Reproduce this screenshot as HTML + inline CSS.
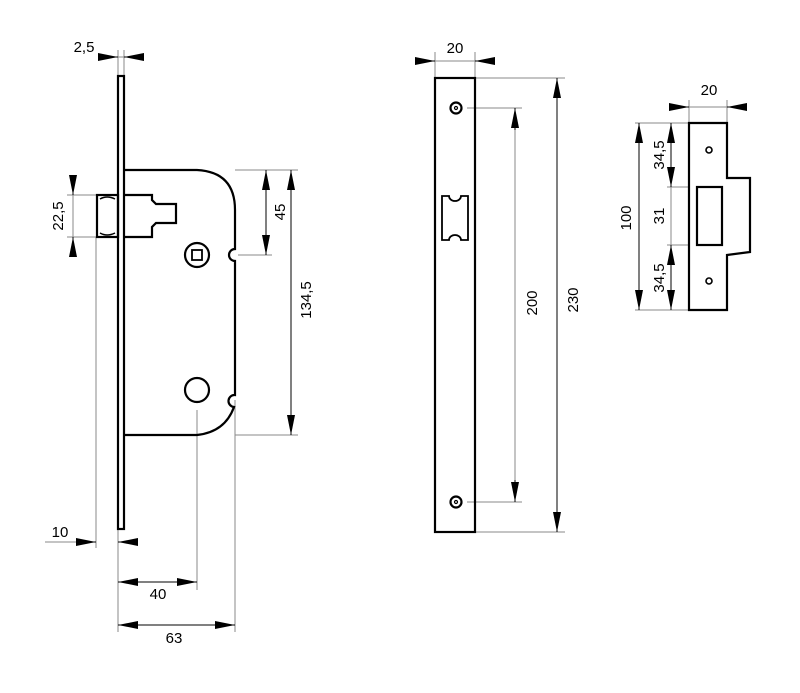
<!DOCTYPE html>
<html><head><meta charset="utf-8"><style>html,body{margin:0;padding:0;background:#fff}svg{display:block}</style></head><body>
<svg width="800" height="693" viewBox="0 0 800 693" xmlns="http://www.w3.org/2000/svg" font-family="Liberation Sans, sans-serif" font-size="15" fill="none">
<defs>
<marker id="a" viewBox="0 0 20 8" refX="20" refY="4" markerWidth="20" markerHeight="8" markerUnits="userSpaceOnUse" orient="auto-start-reverse"><path d="M0 0L20 4L0 8z" fill="#000"/></marker>
</defs>
<g stroke="#888" stroke-width="1">
<line x1="118" y1="50" x2="118" y2="76"/><line x1="124" y1="50" x2="124" y2="76"/>
<line x1="67" y1="195" x2="97" y2="195"/><line x1="67" y1="237" x2="97" y2="237"/>
<line x1="235" y1="170" x2="298" y2="170"/><line x1="238" y1="255" x2="272" y2="255"/>
<line x1="235" y1="435" x2="298" y2="435"/>
<line x1="96" y1="237" x2="96" y2="548"/><line x1="45" y1="542" x2="96" y2="542"/>
<line x1="118" y1="529" x2="118" y2="632"/><line x1="197" y1="410" x2="197" y2="590"/><line x1="235" y1="400" x2="235" y2="632"/>
<line x1="435" y1="52" x2="435" y2="78"/><line x1="475" y1="52" x2="475" y2="78"/>
<line x1="475" y1="78" x2="565" y2="78"/><line x1="467" y1="108" x2="522" y2="108"/>
<line x1="467" y1="502" x2="522" y2="502"/><line x1="475" y1="532" x2="565" y2="532"/>
<line x1="689" y1="100" x2="689" y2="123"/><line x1="727" y1="100" x2="727" y2="123"/>
<line x1="635" y1="123" x2="689" y2="123"/><line x1="635" y1="310" x2="689" y2="310"/>
<line x1="667" y1="187" x2="689" y2="187"/><line x1="667" y1="245" x2="689" y2="245"/>
</g>
<g stroke="#000" stroke-width="1">
<line x1="98" y1="57" x2="118" y2="57" marker-end="url(#a)"/><line x1="144" y1="57" x2="124" y2="57" marker-end="url(#a)"/>
<line x1="118" y1="57" x2="124" y2="57" stroke="#888"/>
<line x1="73" y1="175" x2="73" y2="195" marker-end="url(#a)"/><line x1="73" y1="257" x2="73" y2="237" marker-end="url(#a)"/>
<line x1="73" y1="195" x2="73" y2="237" stroke="#888"/>
<line x1="266" y1="170" x2="266" y2="255" marker-start="url(#a)" marker-end="url(#a)"/>
<line x1="291" y1="170" x2="291" y2="435" marker-start="url(#a)" marker-end="url(#a)"/>
<line x1="76" y1="542" x2="96" y2="542" marker-end="url(#a)"/><line x1="138" y1="542" x2="118" y2="542" marker-end="url(#a)"/>
<line x1="118" y1="582" x2="197" y2="582" marker-start="url(#a)" marker-end="url(#a)"/>
<line x1="118" y1="625" x2="235" y2="625" marker-start="url(#a)" marker-end="url(#a)"/>
<line x1="415" y1="61" x2="435" y2="61" marker-end="url(#a)"/><line x1="495" y1="61" x2="475" y2="61" marker-end="url(#a)"/>
<line x1="435" y1="61" x2="475" y2="61" stroke="#888"/>
<line x1="515" y1="108" x2="515" y2="502" stroke="#888"/>
<line x1="515" y1="108" x2="515" y2="130" marker-start="url(#a)"/><line x1="515" y1="480" x2="515" y2="502" marker-end="url(#a)"/>
<line x1="557" y1="78" x2="557" y2="532" marker-start="url(#a)" marker-end="url(#a)"/>
<line x1="669" y1="107" x2="689" y2="107" marker-end="url(#a)"/><line x1="747" y1="107" x2="727" y2="107" marker-end="url(#a)"/>
<line x1="689" y1="107" x2="727" y2="107" stroke="#888"/>
<line x1="639" y1="123" x2="639" y2="310" marker-start="url(#a)" marker-end="url(#a)"/>
<line x1="671" y1="123" x2="671" y2="187" marker-start="url(#a)" marker-end="url(#a)"/>
<line x1="671" y1="187" x2="671" y2="245" stroke="#888"/>
<line x1="671" y1="245" x2="671" y2="310" marker-start="url(#a)" marker-end="url(#a)"/>
</g>
<g stroke="#000" stroke-width="2.2">
<rect x="118" y="76" width="6" height="453"/>
<path d="M124 170H197Q235 172 235 210V249A5 5 0 0 0 235 261V395A5 5 0 0 0 234 407Q225 432 197 435H124"/>
<rect x="97" y="195" width="21" height="42"/>
<path d="M100 199Q107 195 115 199M100 233Q107 237 115 233" stroke-width="1.5"/>
<path d="M124 195H152V200L156 204H176V223H156L152 227V237H124"/>
<circle cx="197" cy="255" r="12"/>
<rect x="192" y="250" width="10" height="10" stroke-width="1.8"/>
<circle cx="197" cy="390" r="12"/>
</g>
<g stroke="#000" stroke-width="2.2">
<rect x="435" y="78" width="40" height="454"/>
<circle cx="456" cy="108" r="5.5"/><circle cx="456" cy="108" r="1.5" stroke-width="1.2"/>
<circle cx="456" cy="502" r="5.5"/><circle cx="456" cy="502" r="1.5" stroke-width="1.2"/>
<path d="M442 196H449A6 5 0 0 0 461 196H468V240H461A6 5 0 0 0 449 240H442Z" stroke-width="1.8"/>
</g>
<g stroke="#000" stroke-width="2.2">
<path d="M689 123H727V178H750V252L727 255V310H689Z"/>
<rect x="697" y="187" width="25" height="58"/>
<circle cx="709" cy="150" r="3" stroke-width="1.6"/><circle cx="709" cy="281" r="3" stroke-width="1.6"/>
</g>
<g fill="#000" stroke="none">
<text x="84" y="52" text-anchor="middle">2,5</text>
<text x="60" y="537" text-anchor="middle">10</text>
<text x="158" y="599" text-anchor="middle">40</text>
<text x="174" y="643" text-anchor="middle">63</text>
<text x="455" y="53" text-anchor="middle">20</text>
<text x="709" y="95" text-anchor="middle">20</text>
<text transform="translate(63,216) rotate(-90)" text-anchor="middle">22,5</text>
<text transform="translate(285,212) rotate(-90)" text-anchor="middle">45</text>
<text transform="translate(311,300) rotate(-90)" text-anchor="middle">134,5</text>
<text transform="translate(537,303) rotate(-90)" text-anchor="middle">200</text>
<text transform="translate(578,300) rotate(-90)" text-anchor="middle">230</text>
<text transform="translate(631,218) rotate(-90)" text-anchor="middle">100</text>
<text transform="translate(664,155) rotate(-90)" text-anchor="middle">34,5</text>
<text transform="translate(664,216) rotate(-90)" text-anchor="middle">31</text>
<text transform="translate(664,278) rotate(-90)" text-anchor="middle">34,5</text>
</g>
</svg>
</body></html>
